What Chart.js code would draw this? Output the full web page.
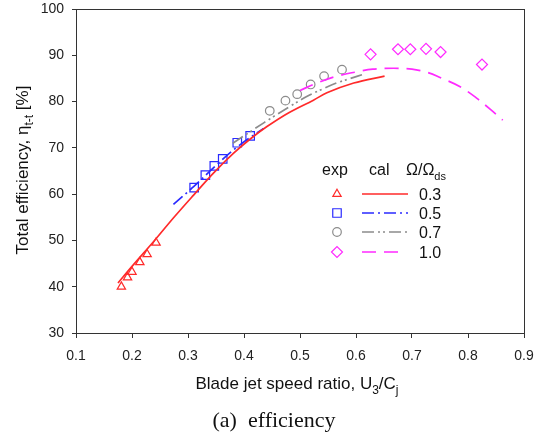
<!DOCTYPE html>
<html>
<head>
<meta charset="utf-8">
<script src="https://cdn.jsdelivr.net/npm/chart.js@4.4.0/dist/chart.umd.min.js"></script>
<style>
  body { margin: 0; background: #fff; }
  canvas { display: block; }
</style>
</head>
<body>
<canvas id="myChart" width="548" height="439"></canvas>
<script>
// experimental points, speed ratio U3/Cj vs efficiency
var exp03x = [0.181, 0.192, 0.200, 0.214, 0.227, 0.243];
var exp03y = [40.0, 42.0, 43.2, 45.3, 47.0, 49.5];
var exp05x = [0.311, 0.331, 0.347, 0.362, 0.388, 0.411];
var exp05y = [61.4, 64.1, 66.1, 67.6, 71.1, 72.6];
var exp07x = [0.446, 0.474, 0.495, 0.519, 0.543, 0.575];
var exp07y = [78.0, 80.2, 81.6, 83.7, 85.5, 86.9];
var exp10x = [0.626, 0.675, 0.697, 0.725, 0.751, 0.825];
var exp10y = [90.2, 91.3, 91.3, 91.4, 90.7, 88.0];

// calculated curves
var cal03x = [0.175, 0.200, 0.241, 0.275, 0.310, 0.345, 0.381, 0.410, 0.441, 0.480, 0.524, 0.548, 0.596, 0.651];
var cal03y = [40.8, 44.4, 50.1, 55.0, 59.8, 64.5, 68.8, 71.8, 74.6, 77.6, 80.3, 81.9, 84.0, 85.5];
var cal05x = [0.274, 0.310, 0.350, 0.390, 0.435];
var cal05y = [57.8, 61.6, 66.2, 70.4, 74.2];
var cal07x = [0.380, 0.420, 0.452, 0.480, 0.512, 0.540, 0.565, 0.590, 0.616];
var cal07y = [71.0, 74.2, 76.7, 78.8, 81.1, 82.7, 84.0, 85.0, 86.0];
var cal10x = [0.500, 0.530, 0.560, 0.600, 0.630, 0.667, 0.700, 0.730, 0.750, 0.786, 0.816, 0.840, 0.862];
var cal10y = [82.4, 84.0, 85.3, 86.4, 87.0, 87.2, 87.0, 86.2, 85.2, 83.2, 80.7, 78.3, 76.0];

var ratioLabels = ['0.3', '0.5', '0.7', '1.0'];
var xTicks = [0.1, 0.2, 0.3, 0.4, 0.5, 0.6, 0.7, 0.8, 0.9];
var yTicks = [30, 40, 50, 60, 70, 80, 90, 100];

var RED = '#ff2a2a', BLUE = '#2a2aff', GRAY = '#8c8c8c', MAG = '#ff2aff';
var colors = [RED, BLUE, GRAY, MAG];
var markers = ['triangle', 'rect', 'circle', 'rectRot'];
var markerSize = [4.8, 6, 4.3, 5.5];
var dashes = [[], [12, 4, 2, 4], [12, 4, 2, 3, 2, 4], [14, 8]];

function pts(xs, ys) {
    return xs.map(function (x, i) { return {x: x, y: ys[i]}; });
}

var calSets = [[cal03x, cal03y], [cal05x, cal05y], [cal07x, cal07y], [cal10x, cal10y]];
var expSets = [[exp03x, exp03y], [exp05x, exp05y], [exp07x, exp07y], [exp10x, exp10y]];

var datasets = [];
calSets.forEach(function (s, i) {
    datasets.push({
        label: 'cal ' + ratioLabels[i],
        data: pts(s[0], s[1]),
        showLine: true,
        borderColor: colors[i],
        borderWidth: 1.7,
        borderDash: dashes[i],
        pointRadius: 0,
        tension: 0.35,
        fill: false
    });
});
expSets.forEach(function (s, i) {
    datasets.push({
        label: 'exp ' + ratioLabels[i],
        data: pts(s[0], s[1]),
        showLine: false,
        pointStyle: markers[i],
        pointRadius: markerSize[i],
        borderColor: colors[i],
        backgroundColor: 'rgba(0,0,0,0)',
        borderWidth: 1.2
    });
});

// draw text with subscript parts: [[text, sub], ...]
function drawRich(c, parts, x, y, size, align) {
    var subSize = Math.round(size * 0.68);
    var w = 0;
    parts.forEach(function (p) {
        c.font = (p[1] ? subSize : size) + 'px "Liberation Sans", Arial, sans-serif';
        w += c.measureText(p[0]).width;
    });
    var cx = align === 'center' ? x - w / 2 : x;
    c.textAlign = 'left';
    c.textBaseline = 'alphabetic';
    parts.forEach(function (p) {
        c.font = (p[1] ? subSize : size) + 'px "Liberation Sans", Arial, sans-serif';
        c.fillText(p[0], cx, p[1] ? y + size * 0.3 : y);
        cx += c.measureText(p[0]).width;
    });
}

var decor = {
    id: 'decor',
    afterDraw: function (chart) {
        var c = chart.ctx, a = chart.chartArea;
        c.save();
        c.strokeStyle = '#333';
        c.lineWidth = 1;
        c.strokeRect(Math.round(a.left) + 0.5, Math.round(a.top) + 0.5,
            Math.round(a.right - a.left), Math.round(a.bottom - a.top));

        c.fillStyle = '#111';
        // x title
        drawRich(c, [['Blade jet speed ratio, U', 0], ['3', 1], ['/C', 0], ['j', 1]], 297, 389, 17, 'center');
        // y title
        c.save();
        c.translate(28, 170);
        c.rotate(-Math.PI / 2);
        drawRich(c, [['Total efficiency, \u03b7', 0], ['t-t', 1], [' [%]', 0]], 0, 0, 17, 'center');
        c.restore();
        // caption
        c.font = '22px "Liberation Serif", "Times New Roman", serif';
        c.textAlign = 'center';
        c.textBaseline = 'middle';
        c.fillText('(a)  efficiency', 274, 421);

        // legend header
        drawRich(c, [['exp', 0]], 322, 175, 16, 'left');
        drawRich(c, [['cal', 0]], 369, 175, 16, 'left');
        drawRich(c, [['\u03a9/\u03a9', 0], ['ds', 1]], 406, 175, 16, 'left');
        c.restore();

        // legend rows
        var rowY = [194, 213, 232, 252];
        var lineEnd = [408, 408, 408, 400];
        for (var i = 0; i < 4; i++) {
            c.save();
            c.strokeStyle = colors[i];
            c.fillStyle = 'rgba(0,0,0,0)';
            c.lineWidth = 1.2;
            Chart.helpers.drawPoint(c, {pointStyle: markers[i], radius: markerSize[i], borderWidth: 1.2}, 337, rowY[i]);
            c.lineWidth = 1.7;
            c.setLineDash(dashes[i]);
            c.beginPath();
            c.moveTo(362, rowY[i]);
            c.lineTo(lineEnd[i], rowY[i]);
            c.stroke();
            c.restore();
            c.save();
            c.fillStyle = '#111';
            drawRich(c, [[ratioLabels[i], 0]], 419, rowY[i] + 6, 16, 'left');
            c.restore();
        }
    }
};

var ctx = document.getElementById('myChart').getContext('2d');
var myChart = new Chart(ctx, {
    type: 'scatter',
    data: { datasets: datasets },
    options: {
        responsive: false,
        animation: false,
        layout: { padding: { left: 0, top: 9, right: 24, bottom: 0 } },
        plugins: {
            legend: { display: false },
            tooltip: { enabled: false }
        },
        scales: {
            x: {
                type: 'linear',
                min: 0.1,
                max: 0.9,
                afterFit: function (s) { s.height = 106; },
                afterBuildTicks: function (s) { s.ticks = xTicks.map(function (v) { return {value: v}; }); },
                ticks: {
                    color: '#222',
                    font: { size: 14, family: '"Liberation Sans", Arial, sans-serif' },
                    padding: 10,
                    maxRotation: 0,
                    callback: function (v) { return v.toFixed(1); }
                },
                grid: { drawOnChartArea: false, drawTicks: true, tickLength: 5, color: '#333' },
                border: { color: '#333' }
            },
            y: {
                min: 30,
                max: 100,
                afterFit: function (s) { s.width = 76; },
                afterBuildTicks: function (s) { s.ticks = yTicks.map(function (v) { return {value: v}; }); },
                ticks: {
                    color: '#222',
                    font: { size: 14, lineHeight: 0.1, family: '"Liberation Sans", Arial, sans-serif' },
                    padding: 8
                },
                grid: { drawOnChartArea: false, drawTicks: true, tickLength: 4, color: '#333' },
                border: { color: '#333' }
            }
        }
    },
    plugins: [decor]
});
</script>
</body>
</html>
